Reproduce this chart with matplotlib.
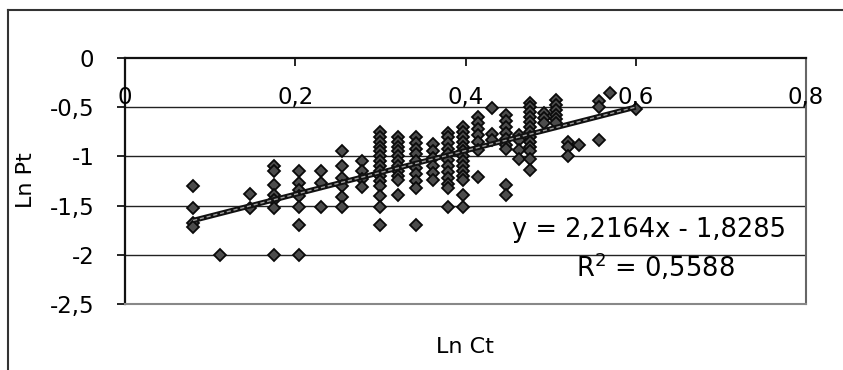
import numpy as np
import matplotlib
matplotlib.use("Agg")
import matplotlib.pyplot as plt
from matplotlib.lines import Line2D

# scatter data, one row per Ln Ct value
clusters = [
    (0.080, [-1.30, -1.52, -1.68, -1.72]),
    (0.112, [-2.00]),
    (0.147, [-1.38, -1.52]),
    (0.175, [-1.10, -1.15, -1.29, -1.39, -1.44, -1.52, -2.00]),
    (0.204, [-1.15, -1.27, -1.34, -1.40, -1.51, -1.70, -2.00]),
    (0.230, [-1.15, -1.27, -1.51]),
    (0.255, [-0.95, -1.10, -1.22, -1.30, -1.41, -1.51]),
    (0.278, [-1.05, -1.15, -1.23, -1.31]),
    (0.300, [-0.75, -0.80, -0.85, -0.90, -0.95, -1.00, -1.05, -1.10, -1.15,
             -1.20, -1.25, -1.30, -1.40, -1.51, -1.70]),
    (0.321, [-0.80, -0.85, -0.90, -0.95, -1.00, -1.05, -1.10, -1.15, -1.20,
             -1.24, -1.39]),
    (0.342, [-0.80, -0.86, -0.92, -0.98, -1.05, -1.12, -1.18, -1.25, -1.32, -1.70]),
    (0.362, [-0.87, -0.95, -1.02, -1.10, -1.17, -1.24]),
    (0.380, [-0.76, -0.80, -0.86, -0.92, -0.98, -1.04, -1.10, -1.16, -1.22,
             -1.28, -1.32, -1.51]),
    (0.397, [-0.70, -0.75, -0.80, -0.85, -0.90, -0.95, -1.00, -1.05, -1.10,
             -1.15, -1.20, -1.24, -1.39, -1.51]),
    (0.415, [-0.60, -0.66, -0.72, -0.78, -0.85, -0.93, -1.21]),
    (0.431, [-0.51, -0.77, -0.83]),
    (0.447, [-0.58, -0.64, -0.70, -0.76, -0.82, -0.88, -0.92, -1.29, -1.39]),
    (0.463, [-0.78, -0.83, -0.93, -1.03]),
    (0.476, [-0.46, -0.50, -0.55, -0.60, -0.65, -0.70, -0.75, -0.80, -0.85,
             -0.90, -0.95, -1.03, -1.14]),
    (0.492, [-0.56, -0.61, -0.66]),
    (0.506, [-0.43, -0.48, -0.53, -0.58, -0.62, -0.66]),
    (0.520, [-0.85, -0.90, -1.00]),
    (0.533, [-0.88]),
    (0.557, [-0.44, -0.50, -0.83]),
    (0.570, [-0.36]),
    (0.600, [-0.52]),
]

ln_ct = [x for x, ys in clusters for _ in ys]
ln_pt = [y for _, ys in clusters for y in ys]

slope = 2.2164
intercept = -1.8285
r2_text = "0,5588"

xticks = [0, 0.2, 0.4, 0.6, 0.8]
xtick_labels = ["0", "0,2", "0,4", "0,6", "0,8"]
yticks = [0, -0.5, -1, -1.5, -2, -2.5]
ytick_labels = ["0", "-0,5", "-1", "-1,5", "-2", "-2,5"]

fig = plt.figure(figsize=(8.43, 3.70), dpi=100)
ax = fig.add_axes([0.1483, 0.1784, 0.8078, 0.6648])

# outer chart frame (only top and left are visible)
fig.add_artist(Line2D([8/843, 1], [1 - 10/370] * 2, transform=fig.transFigure,
                      color="#333333", lw=1.5))
fig.add_artist(Line2D([8/843] * 2, [0, 1 - 10/370], transform=fig.transFigure,
                      color="#333333", lw=1.5))

ax.set_xlim(0, 0.8)
ax.set_ylim(-2.5, 0)

for gy in yticks[1:-1]:
    ax.axhline(gy, color="#222222", lw=1.0, zorder=1)

ax.plot(ln_ct, ln_pt, linestyle="none", marker="D", markersize=6.3,
        markerfacecolor="#4c4c4c", markeredgecolor="#0a0a0a",
        markeredgewidth=1.3, zorder=3)

# trend line
xs = np.array([min(ln_ct), max(ln_ct)])
ax.plot(xs, slope * xs + intercept, color="#111111", lw=3.8, zorder=4,
        solid_capstyle="butt")
ax.plot(xs, slope * xs + intercept, color="#a0a0a0", lw=1.0, zorder=5,
        linestyle=(0, (3, 2)))

# axes look
ax.spines["left"].set_color("#111111")
ax.spines["left"].set_linewidth(1.6)
ax.spines["top"].set_color("#111111")
ax.spines["top"].set_linewidth(1.6)
ax.spines["right"].set_color("#666666")
ax.spines["right"].set_linewidth(1.5)
ax.spines["bottom"].set_color("#888888")
ax.spines["bottom"].set_linewidth(1.5)

ax.set_yticks(yticks)
ax.set_yticklabels(ytick_labels, fontsize=16.5)
ax.tick_params(axis="y", direction="out", length=6, width=1.2, pad=16)

ax.xaxis.tick_top()
ax.set_xticks(xticks)
ax.set_xticklabels([])
ax.tick_params(axis="x", direction="in", length=6, width=1.2)
for xv, lab in zip(xticks, xtick_labels):
    ax.text(xv, -0.405, lab, ha="center", va="center", fontsize=16.5)

ax.text(0.776, -1.745, "y = 2,2164x - 1,8285", ha="right", va="center",
        fontsize=18.5)
ax.text(0.6235, -2.13, "R$^2$ = " + r2_text, ha="center", va="center",
        fontsize=18.5)

fig.text(465/843, 1 - 347/370, "Ln Ct", ha="center", va="center", fontsize=16)
fig.text(26/843, 1 - 180/370, "Ln Pt", ha="center", va="center", fontsize=16,
         rotation=90)

fig.savefig("out.png", dpi=100)
